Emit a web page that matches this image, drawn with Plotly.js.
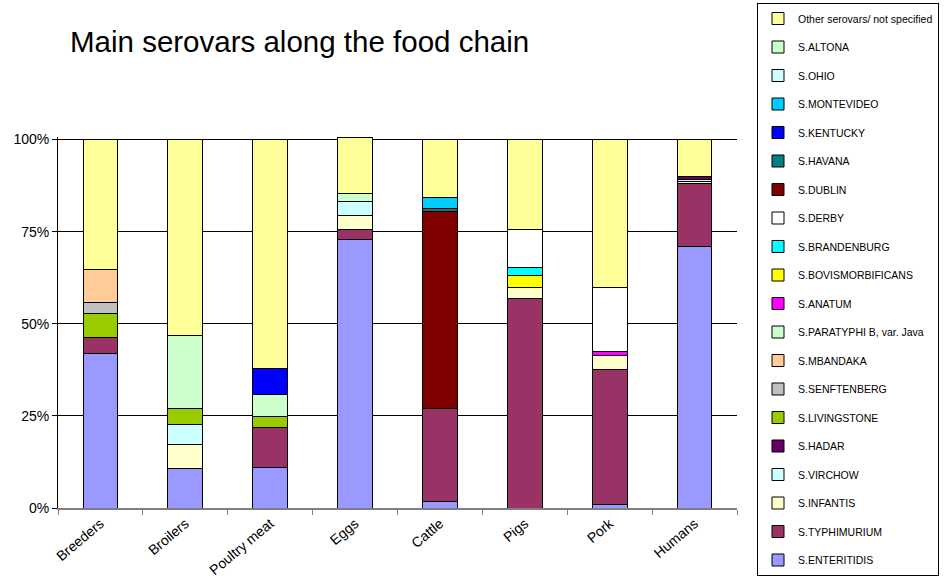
<!DOCTYPE html>
<html>
<head>
<meta charset="utf-8">
<script src="https://cdn.plot.ly/plotly-3.0.1.min.js"></script>
<style>html,body{margin:0;padding:0;background:#fff;}#chart{width:944px;height:579px;}</style>
</head>
<body>
<div id="chart"></div>
<script>
const categories = ["Breeders", "Broilers", "Poultry meat", "Eggs", "Cattle", "Pigs", "Pork", "Humans"];

const enteritidis     = [42.0, 10.7, 10.9, 72.9, 1.8, 0, 0.9, 70.9];
const typhimurium     = [4.4, 0, 11.0, 2.7, 25.3, 56.9, 36.6, 17.2];
const infantis        = [0, 6.5, 0, 3.9, 0, 3.0, 4.0, 0.5];
const virchow         = [0, 5.4, 0, 3.7, 0, 0, 0, 0.6];
const hadar           = [0, 0, 0, 0, 0, 0, 0, 0.9];
const livingstone     = [6.4, 4.5, 2.9, 0, 0, 0, 0, 0];
const senftenberg     = [3.0, 0, 0, 0, 0, 0, 0, 0];
const mbandaka        = [9.0, 0, 0, 0, 0, 0, 0, 0];
const paratyphiBJava  = [0, 19.8, 5.9, 2.3, 0, 0, 0, 0];
const anatum          = [0, 0, 0, 0, 0, 0, 0.9, 0];
const bovismorbificans= [0, 0, 0, 0, 0, 3.1, 0, 0];
const brandenburg     = [0, 0, 0, 0, 0, 2.3, 0, 0];
const derby           = [0, 0, 0, 0, 0, 10.3, 17.5, 0];
const dublin          = [0, 0, 0, 0, 53.5, 0, 0, 0];
const havana          = [0, 0, 0, 0, 0.7, 0, 0, 0];
const kentucky        = [0, 0, 7.1, 0, 0, 0, 0, 0];
const montevideo      = [0, 0, 0, 0, 3.1, 0, 0, 0];
const ohio            = [0, 0, 0, 0, 0, 0, 0, 0];
const altona          = [0, 0, 0, 0, 0, 0, 0, 0];
const other           = [35.2, 53.1, 62.2, 15.2, 15.6, 24.4, 40.1, 9.9];

const yTickVals = [0, 25, 50, 75, 100];

const series = [
  {name: "S.ENTERITIDIS", values: enteritidis, color: "#9999FF"},
  {name: "S.TYPHIMURIUM", values: typhimurium, color: "#993366"},
  {name: "S.INFANTIS", values: infantis, color: "#FFFFCC"},
  {name: "S.VIRCHOW", values: virchow, color: "#CCFFFF"},
  {name: "S.HADAR", values: hadar, color: "#660066"},
  {name: "S.LIVINGSTONE", values: livingstone, color: "#99CC00"},
  {name: "S.SENFTENBERG", values: senftenberg, color: "#C0C0C0"},
  {name: "S.MBANDAKA", values: mbandaka, color: "#FFCC99"},
  {name: "S.PARATYPHI B, var. Java", values: paratyphiBJava, color: "#CCFFCC"},
  {name: "S.ANATUM", values: anatum, color: "#FF00FF"},
  {name: "S.BOVISMORBIFICANS", values: bovismorbificans, color: "#FFFF00"},
  {name: "S.BRANDENBURG", values: brandenburg, color: "#00FFFF"},
  {name: "S.DERBY", values: derby, color: "#FFFFFF"},
  {name: "S.DUBLIN", values: dublin, color: "#800000"},
  {name: "S.HAVANA", values: havana, color: "#008080"},
  {name: "S.KENTUCKY", values: kentucky, color: "#0000FF"},
  {name: "S.MONTEVIDEO", values: montevideo, color: "#00CCFF"},
  {name: "S.OHIO", values: ohio, color: "#CCFFFF"},
  {name: "S.ALTONA", values: altona, color: "#CCFFCC"},
  {name: "Other serovars/ not specified", values: other, color: "#FFFF99"}
];

const traces = series.map((s, i) => ({
  type: "bar",
  name: s.name,
  x: categories,
  y: s.values.map(v => v === 0 ? null : v),
  legendgroup: "g" + i,
  legendrank: 1000 - i,
  marker: {color: s.color, line: {color: "#000000", width: 1}},
  hoverinfo: "name+y"
}));

const layout = {
  width: 944,
  height: 579,
  paper_bgcolor: "#ffffff",
  plot_bgcolor: "#ffffff",
  barmode: "stack",
  bargap: 0.59,
  font: {family: "Liberation Sans, Arial, sans-serif", color: "#000000", size: 12},
  title: {
    text: "Main serovars along the food chain",
    font: {size: 29.5, family: "Liberation Sans, Arial, sans-serif", color: "#000000"},
    xref: "container", yref: "container",
    x: 70 / 944, xanchor: "left",
    y: 1 - 42 / 579, yanchor: "middle"
  },
  margin: {l: 57.5, r: 206.5, t: 136.7, b: 70.7, pad: 0},
  xaxis: {
    type: "category",
    tickson: "boundaries",
    ticks: "outside",
    ticklen: 5,
    tickcolor: "#808080",
    tickangle: -40,
    tickfont: {size: 14, family: "Liberation Sans, Arial, sans-serif"},
    showline: true,
    linecolor: "#808080",
    linewidth: 2,
    showgrid: false,
    zeroline: false
  },
  yaxis: {
    range: [0, 100.7],
    tickvals: yTickVals,
    ticktext: yTickVals.map(v => v + "%"),
    ticks: "outside",
    ticklen: 5,
    tickcolor: "#000000",
    tickfont: {size: 14, family: "Liberation Sans, Arial, sans-serif"},
    showline: true,
    linecolor: "#000000",
    linewidth: 1,
    showgrid: true,
    gridcolor: "#000000",
    gridwidth: 1,
    zeroline: false
  },
  legend: {
    xref: "container", yref: "container",
    x: 757 / 944, xanchor: "left",
    y: 1 - 3 / 579, yanchor: "top",
    traceorder: "grouped",
    tracegroupgap: 9.5,
    maxheight: 579,
    bgcolor: "#ffffff",
    bordercolor: "#000000",
    borderwidth: 1,
    font: {size: 10.5, family: "Liberation Sans, Arial, sans-serif", color: "#000000"},
    itemwidth: 30
  },
  showlegend: true
};

Plotly.newPlot("chart", traces, layout, {displayModeBar: false, staticPlot: true});
</script>
</body>
</html>
